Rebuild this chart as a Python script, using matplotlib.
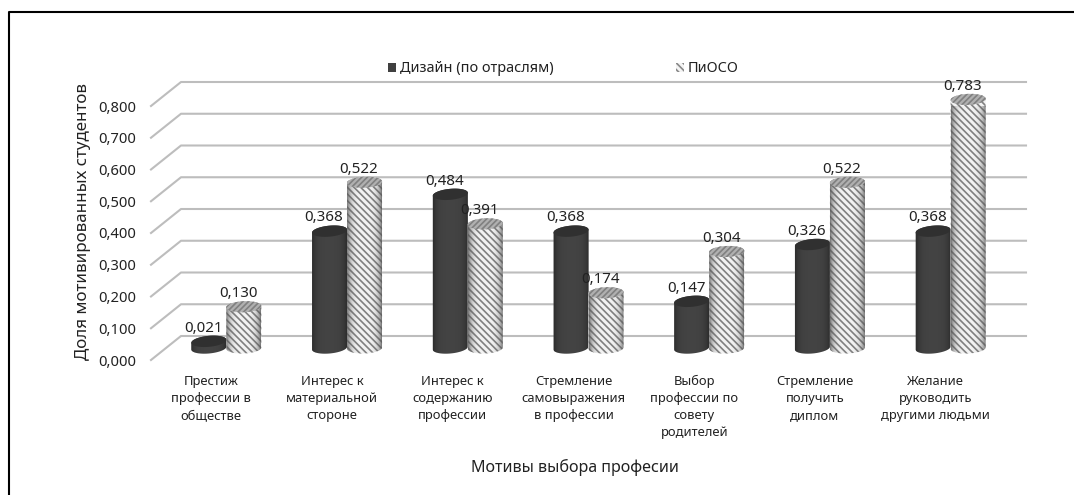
import numpy as np
import matplotlib
matplotlib.use("Agg")
import matplotlib.pyplot as plt
from matplotlib.patches import Polygon, Patch
from matplotlib.lines import Line2D

categories = ["Престиж\nпрофессии в\nобществе", "Интерес к\nматериальной\nстороне",
              "Интерес к\nсодержанию\nпрофессии", "Стремление\nсамовыражения\nв профессии",
              "Выбор\nпрофессии по\nсовету\nродителей", "Стремление\nполучить\nдиплом",
              "Желание\nруководить\nдругими людьми"]
design = [0.021, 0.368, 0.484, 0.368, 0.147, 0.326, 0.368]
pioso = [0.130, 0.522, 0.391, 0.174, 0.304, 0.522, 0.783]
yticks = [0.0, 0.1, 0.2, 0.3, 0.4, 0.5, 0.6, 0.7, 0.8]
series_names = ["Дизайн (по отраслям)", "ПиОСО"]

W, H = 1074, 495
plt.rcParams['font.family'] = ['Noto Sans', 'DejaVu Sans']
plt.rcParams['hatch.linewidth'] = 1.2
fig = plt.figure(figsize=(W/100, H/100), dpi=100)
L, R, B, T = 151, 996, 360, 106
ax = fig.add_axes([L/W, 1-B/H, (R-L)/W, (B-T)/H])
ax.set_xlim(0, 7)
ax.set_ylim(0, 0.8)
ax.patch.set_alpha(0)
for s in ax.spines.values():
    s.set_visible(False)
px_x = 7/(R-L)
px_y = 0.8/(B-T)
dx, dy = 30*px_x, 24*px_y

for v in yticks:
    ax.plot([0, dx, 7+dx], [v, v+dy, v+dy], color='#bdbdbd', lw=1.5, clip_on=False, zorder=1)

ax.set_yticks(yticks)
ax.set_yticklabels([f"{v:.3f}".replace('.', ',') for v in yticks], fontsize=10.6, color='#222222')
ax.set_xticks(np.arange(7)+0.5)
ax.set_xticklabels(categories, fontsize=9.3, color='#222222', linespacing=1.42)
ax.tick_params(axis='both', length=0)
ax.tick_params(axis='y', pad=10.5)
ax.tick_params(axis='x', pad=10.5)

bw = 35*px_x
eh = 11*px_y
def cylinder(cx, val, tilt, face, top_face, hatch, hcolor, z, shade):
    t = np.linspace(0, np.pi, 40)
    base = dy/2
    tp = base + val
    tl = tilt*px_y
    xb = cx + bw/2*np.cos(t)
    yb = base - eh/2*np.sin(t) + tl*np.cos(t)
    xt = cx - bw/2*np.cos(t)
    yt = tp + eh/2*np.sin(t) - tl*np.cos(t)
    body = Polygon(np.c_[np.r_[xb, xt], np.r_[yb, yt]], closed=True,
                   facecolor=face, edgecolor=hcolor, lw=0, hatch=hatch, zorder=z, clip_on=False)
    ax.add_patch(body)
    s = np.linspace(-1, 1, 60)
    g = np.zeros((1, 60, 4))
    g[..., :3] = shade[0]
    g[..., 3] = shade[1]*np.abs(s)**4
    im = ax.imshow(g, extent=[cx-bw/2, cx+bw/2, base-eh, tp+eh], aspect='auto', zorder=z+0.1)
    im.set_clip_path(body)
    a = np.linspace(0, 2*np.pi, 60)
    top = Polygon(np.c_[cx + bw/2*np.cos(a), tp + eh/2*np.sin(a) + tl*np.cos(a)], closed=True,
                  facecolor=top_face, edgecolor=hcolor, lw=0, hatch='//////' if hatch else None,
                  zorder=z+0.2, clip_on=False)
    ax.add_patch(top)

for i in range(7):
    c = i + 0.5 + dx/2
    z = 3 + i
    cylinder(c-bw/2, design[i], 1.5, '#434343', '#303030', None, 'none', z, ((0.12, 0.12, 0.12), 0.6))
    cylinder(c+bw/2, pioso[i], 0.7, '#f2f2f2', '#b0b0b0', '\\\\\\\\\\', '#808080', z+0.5, ((0.35, 0.35, 0.35), 0.8))
    for xc, val, in ((c-bw/2, design[i]), (c+bw/2, pioso[i])):
        ax.annotate(f"{val:.3f}".replace('.', ','), (xc, val+dy/2), xytext=(-4, 9.5),
                    textcoords='offset points', ha='center', va='center',
                    fontsize=10.9, color='#222222', zorder=30, annotation_clip=False)
ax.set_ylim(0, 0.8)
ax.set_xlim(0, 7)

ax.set_ylabel("Доля мотивированных студентов", fontsize=12.2, color='#222222')
ax.yaxis.set_label_coords((91-L)/(R-L), (B-221)/(B-T))
ax.set_xlabel("Мотивы выбора професии", fontsize=11.6, color='#222222')
ax.xaxis.set_label_coords((575-L)/(R-L), (B-459)/(B-T))

handles = [Patch(facecolor='#404040', edgecolor='none'),
           Patch(facecolor='#f4f4f4', edgecolor='#888888', lw=0, hatch='\\\\\\\\\\')]
leg = ax.legend(handles, series_names, ncol=2, frameon=False, fontsize=10.4,
                handlelength=0.55, handleheight=0.55, handletextpad=0.27, columnspacing=8.5,
                loc='center left', bbox_to_anchor=((388-L)/(R-L), (B-69)/(B-T)),
                borderpad=0, borderaxespad=0)
for t in leg.get_texts():
    t.set_color('#222222')

fig.add_artist(Line2D([9/W, 9/W, 1], [0, 1-12/H, 1-12/H], color='black', lw=1.5, transform=fig.transFigure))
fig.savefig("out.png", dpi=100)
